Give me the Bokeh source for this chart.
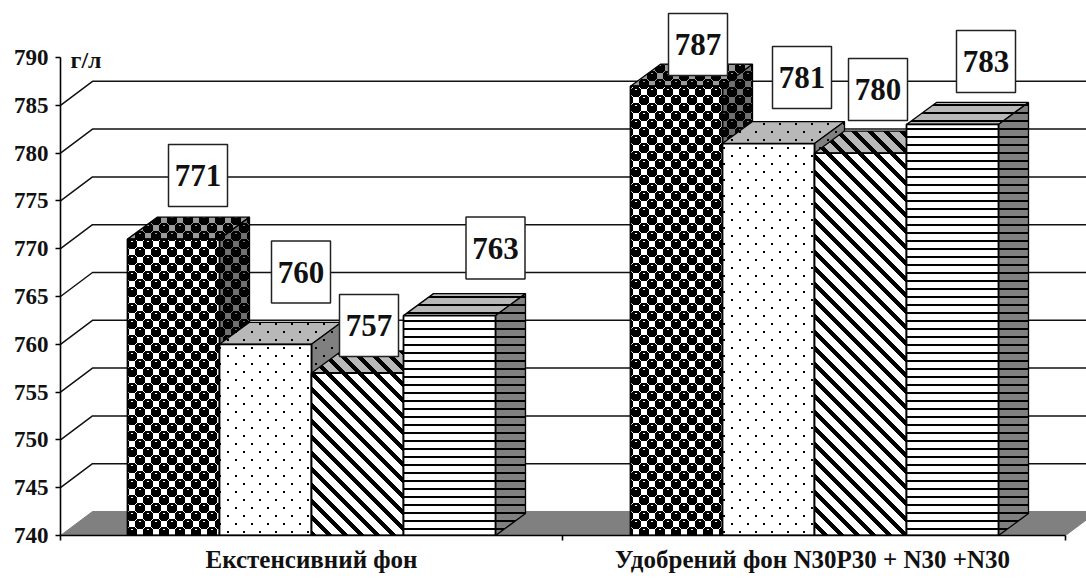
import base64, struct, zlib
import numpy as np
from bokeh.core.properties import value
from bokeh.embed import file_html
from bokeh.models import FixedTicker, ImageURLTexture, LinearAxis, Range1d
from bokeh.plotting import figure
from bokeh.resources import INLINE

# ---------- data ----------
categories = ["Екстенсивний фон", "Удобрений фон N30P30 + N30 +N30"]
series_group1 = [771, 760, 757, 763]
series_group2 = [787, 781, 780, 783]
y_ticks = [740, 745, 750, 755, 760, 765, 770, 775, 780, 785, 790]
grid_ticks = [745, 750, 755, 760, 765, 770, 775, 780, 785]
unit_label = "г/л"

# ---------- layout ----------
PX = 9.56
WIDTH, HEIGHT = 1086, 578
X0, X1 = 60, WIDTH
Y0, Y1 = 740, 740 + 535 / PX
group_edges = [60, 562, 1065]
group_centers = [311, 814]
label_centers = [311, 812]
bar_w = 92
bar_dx, bar_dy = 30, 22 / PX
wall_dx, wall_dy = 32, 24 / PX
label_dx = [[24.5, 35.5, 11.5, 46.0], [21.5, 33.5, 17.5, 33.5]]
label_up = [[63.6, 72.3, 47.5, 67.6], [41.7, 66.0, 63.6, 63.0]]


def png_url(alpha_black):
    h, w = alpha_black.shape
    rgba = np.zeros((h, w, 4), dtype=np.uint8)
    rgba[..., 3] = (alpha_black * 255).astype(np.uint8)
    raw = b"".join(b"\x00" + rgba[r].tobytes() for r in range(h))

    def chunk(t, d):
        c = struct.pack(">I", len(d)) + t + d
        return c + struct.pack(">I", zlib.crc32(t + d) & 0xffffffff)

    data = b"\x89PNG\r\n\x1a\n" + chunk(b"IHDR", struct.pack(">IIBBBBB", w, h, 8, 6, 0, 0, 0)) \
        + chunk(b"IDAT", zlib.compress(raw)) + chunk(b"IEND", b"")
    return "data:image/png;base64," + base64.b64encode(data).decode()


yy, xx = np.mgrid[0:16, 0:16].astype(float)


def disks(radius):
    m = np.zeros((16, 16))
    for cx, cy in [(4, 4), (12, 12), (-4, 12), (12, -4), (20, 4), (4, 20), (20, 20), (-4, -4)]:
        m = np.maximum(m, ((xx + 0.5 - cx) ** 2 + (yy + 0.5 - cy) ** 2 <= radius ** 2))
    return m


balls = disks(5.2)
for (hx, hy) in [(3, 1), (4, 1), (11, 9), (12, 9)]:
    balls[hy, hx] = 0.0
dots = disks(1.1)
diag = ((xx - yy) % 16 < 6.0).astype(float)
lines = (yy % 8 < 2).astype(float)

textures = {
    "balls": ImageURLTexture(url=png_url(balls)),
    "dots": ImageURLTexture(url=png_url(dots)),
    "diag": ImageURLTexture(url=png_url(diag)),
    "lines": ImageURLTexture(url=png_url(lines)),
}
patterns = ["balls", "dots", "diag", "lines"]

p = figure(width=WIDTH, height=HEIGHT, output_backend="svg", toolbar_location=None,
           x_range=Range1d(X0, X1), y_range=Range1d(Y0, Y1),
           x_axis_location=None, y_axis_location=None,
           min_border_left=60, min_border_right=0, min_border_top=0,
           min_border_bottom=HEIGHT - 535,
           background_fill_color="white", border_fill_color="white", outline_line_color=None)
p.grid.visible = False

FONT = "Liberation Serif"

yax = LinearAxis(ticker=FixedTicker(ticks=y_ticks), bounds=(740, 790))
yax.major_tick_out = 5
yax.major_tick_in = 0
yax.minor_tick_out = 0
yax.minor_tick_in = 0
yax.major_label_standoff = 7
yax.axis_line_width = 1.6
yax.major_tick_line_width = 1.6
yax.major_label_text_font = FONT
yax.major_label_text_font_style = "bold"
yax.major_label_text_font_size = "23px"
yax.major_label_text_color = "#111111"
p.add_layout(yax, "left")

xax = LinearAxis(ticker=FixedTicker(ticks=label_centers, minor_ticks=group_edges),
                 bounds=(group_edges[0], group_edges[-1]))
xax.major_label_overrides = {c: t for c, t in zip(label_centers, categories)}
xax.major_tick_out = 0
xax.major_tick_in = 0
xax.minor_tick_out = 5
xax.minor_tick_in = 0
xax.minor_tick_line_color = "black"
xax.minor_tick_line_width = 1.6
xax.axis_line_width = 1.6
xax.major_label_standoff = 5
xax.major_label_text_font = FONT
xax.major_label_text_font_style = "bold"
xax.major_label_text_font_size = "25px"
xax.major_label_text_color = "#111111"
p.add_layout(xax, "below")

p.patch([group_edges[0], group_edges[0] + wall_dx, group_edges[-1] + wall_dx, group_edges[-1]],
        [Y0, Y0 + wall_dy, Y0 + wall_dy, Y0], fill_color="#808080", line_color="#808080")

p.multi_line([[X0, X0 + wall_dx, X1] for _ in grid_ticks],
             [[t, t + wall_dy, t + wall_dy] for t in grid_ticks],
             line_color="#111111", line_width=1.5)

face_top = ["#9a9a9a", "#b8b8b8", "#b8b8b8", "#b8b8b8"]
face_side = ["#707070", "#808080", "#808080", "#808080"]

for center, vals in zip(group_centers, [series_group1, series_group2]):
    left0 = center - 2 * bar_w
    for i, v in enumerate(vals):
        l, r = left0 + i * bar_w, left0 + (i + 1) * bar_w
        pat = patterns[i]
        tex = {pat: textures[pat]}
        common = dict(line_color="black", line_width=1.3, hatch_pattern=pat,
                      hatch_extra=tex, hatch_color="black")
        p.patch([l, l + bar_dx, r + bar_dx, r], [v, v + bar_dy, v + bar_dy, v],
                fill_color=face_top[i], **common)
        p.patch([r, r + bar_dx, r + bar_dx, r], [Y0, Y0 + bar_dy, v + bar_dy, v],
                fill_color=face_side[i], **common)
        p.patch([l, r, r, l], [Y0, Y0, v, v], fill_color="white",
                line_color="black", line_width=1.8, hatch_pattern=pat,
                hatch_extra=tex, hatch_color="black")

lx, ly, lt = [], [], []
for g, (center, vals) in enumerate(zip(group_centers, [series_group1, series_group2])):
    left0 = center - 2 * bar_w
    for i, v in enumerate(vals):
        lx.append(left0 + (i + 0.5) * bar_w + label_dx[g][i])
        ly.append(v + label_up[g][i] / PX)
        lt.append(str(v))

p.rect(lx, ly, width=59, height=62, width_units="screen", height_units="screen",
       fill_color="white", line_color="#222222", line_width=1.5)
p.text(lx, ly, text=lt, text_align="center", text_baseline="middle",
       text_font=value(FONT), text_font_style="bold", text_font_size="31px",
       text_color="#111111")

p.text([X0 + 10], [789.7], text=[unit_label], text_align="left", text_baseline="middle",
       text_font=value(FONT), text_font_style="bold", text_font_size="24px",
       text_color="#111111")

open("out.html", "w").write(file_html(p, INLINE))
